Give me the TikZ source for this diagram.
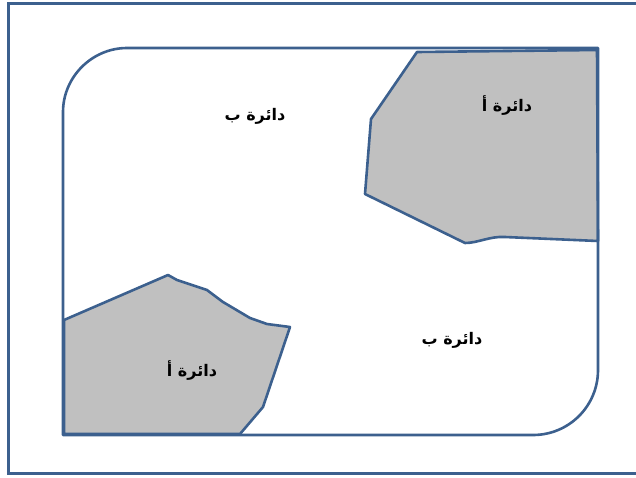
\documentclass[tikz,border=0pt]{standalone}
\usepackage{fontspec}
\newfontfamily\arabicfont[Script=Arabic]{DejaVu Sans}
\TeXXeTstate=1
\definecolor{edgeblue}{RGB}{60,96,142}
\definecolor{zonegray}{RGB}{192,192,192}
\begin{document}
\begin{tikzpicture}[x=1pt,y=-1pt,
  edge/.style={draw=edgeblue,line width=2.6pt,line join=round},
  zone/.style={edge,fill=zonegray},
  label/.style={font=\arabicfont\bfseries\fontsize{16}{18}\selectfont,inner sep=0pt}]
\useasboundingbox (0,0) rectangle (636,477);
% outer frame
\draw[edgeblue,line width=3pt] (636,3) -- (8,3) -- (8,473) -- (636,473);
% shaded zones
\path[zone] (417,52) -- (597,50) -- (598,241) -- (505,237)
  .. controls (490,236) and (478,243) .. (465,243)
  -- (365,194) -- (371,119) -- cycle;
\path[zone] (64,320) -- (168,275) -- (177,280) -- (207,290) -- (223,302)
  -- (250,318) -- (267,324) -- (290,327) -- (263,407) -- (240,434)
  -- (64,434) -- cycle;
% main region
\draw[edge] (63,435) -- (63,112) .. controls (63,77) and (92,48) .. (127,48)
  -- (598,48) -- (598,370) .. controls (598,406) and (569,435) .. (533,435) -- cycle;
% labels
\node[label] (b1) at (255,116) {\beginR دائرة ب\endR};
\node[label] (a1) at (507,106) {\beginR دائرة أ\endR};
\node[label] (a2) at (192,370) {\beginR دائرة أ\endR};
\node[label] (b2) at (452,340) {\beginR دائرة ب\endR};
\end{tikzpicture}
\end{document}
